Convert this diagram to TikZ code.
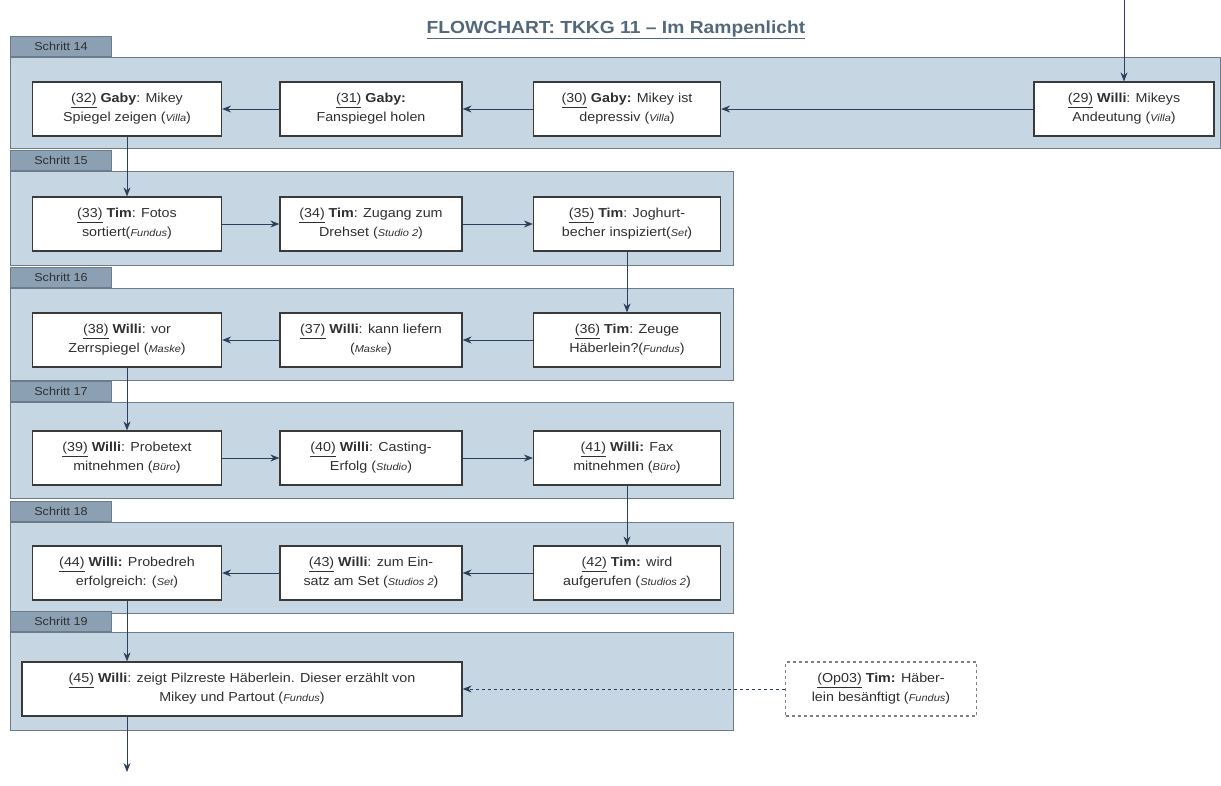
\documentclass[tikz,border=0pt]{standalone}
\usepackage{fontspec}
\setmainfont{Liberation Sans}[FakeStretch=1.1]
\usetikzlibrary{arrows.meta}
\definecolor{panelfill}{RGB}{198,214,227}
\definecolor{panelline}{RGB}{108,124,140}
\definecolor{tabfill}{RGB}{140,160,180}
\definecolor{flowline}{RGB}{44,64,92}
\definecolor{boxline}{RGB}{58,58,58}
\definecolor{txtgray}{RGB}{48,48,48}
\definecolor{titleblue}{RGB}{84,104,124}
\tikzstyle{panel}=[draw=panelline, fill=panelfill, line width=1pt]
\tikzstyle{steptab}=[draw=panelline, fill=tabfill, line width=1pt, minimum width=101pt, minimum height=20pt, inner sep=0pt, text=txtgray, font=\fontsize{11.5}{11.5}\selectfont]
\tikzstyle{stepbox}=[draw=boxline, fill=white, line width=1.2pt, align=center, minimum height=54pt, inner sep=0pt, text=txtgray, font=\fontsize{13}{19}\selectfont]
\tikzstyle{optbox}=[stepbox, draw=gray, dashed]
\tikzstyle{flow}=[draw=flowline, line width=0.9pt, -{Stealth[length=9pt,width=7pt]}]
\newcommand{\nr}[1]{\underline{(#1)}}
\newcommand{\ort}[1]{({\fontsize{10}{10}\selectfont\itshape #1})}

\begin{document}
\begin{tikzpicture}[x=1pt, y=-1pt]
\useasboundingbox (0,0) rectangle (1221,785);
\node[font=\bfseries\fontsize{17.5}{17.5}\selectfont, text=titleblue] (title) at (616,30) {\underline{FLOWCHART: TKKG 11 -- Im Rampenlicht}};
% panels with their tabs
\foreach \s/\t/\b/\r in {14/57/148/1220, 15/171/265/733, 16/288/380/733, 17/402/498/733, 18/522/613/733, 19/632/730/733} {
 \draw[panel] (10,\t) rectangle (\r,\b);
 \node[steptab, anchor=south west] (tab\s) at (10,\t) {Schritt \s};
}
% Schritt 14
\node[stepbox, minimum width=180pt] (b29) at (1124,109) {\nr{29} \textbf{Willi}: Mikeys\\Andeutung \ort{Villa}};
\node[stepbox, minimum width=187pt] (b30) at (627,109) {\nr{30} \textbf{Gaby:} Mikey ist\\depressiv \ort{Villa}};
\node[stepbox, minimum width=182pt] (b31) at (371,109) {\nr{31} \textbf{Gaby:}\\Fanspiegel holen};
\node[stepbox, minimum width=189pt] (b32) at (127,109) {\nr{32} \textbf{Gaby}: Mikey\\Spiegel zeigen \ort{Villa}};
% Schritt 15
\node[stepbox, minimum width=189pt] (b33) at (127,224) {\nr{33} \textbf{Tim}: Fotos\\sortiert\ort{Fundus}};
\node[stepbox, minimum width=182pt] (b34) at (371,224) {\nr{34} \textbf{Tim}: Zugang zum\\Drehset \ort{Studio 2}};
\node[stepbox, minimum width=187pt] (b35) at (627,224) {\nr{35} \textbf{Tim}: Joghurt-\\becher inspiziert\ort{Set}};
% Schritt 16
\node[stepbox, minimum width=187pt] (b36) at (627,340) {\nr{36} \textbf{Tim}: Zeuge\\Häberlein?\ort{Fundus}};
\node[stepbox, minimum width=182pt] (b37) at (371,340) {\nr{37} \textbf{Willi}: kann liefern\\\ort{Maske}};
\node[stepbox, minimum width=189pt] (b38) at (127,340) {\nr{38} \textbf{Willi}: vor\\Zerrspiegel \ort{Maske}};
% Schritt 17
\node[stepbox, minimum width=189pt] (b39) at (127,458) {\nr{39} \textbf{Willi}: Probetext\\mitnehmen \ort{Büro}};
\node[stepbox, minimum width=182pt] (b40) at (371,458) {\nr{40} \textbf{Willi}: Casting-\\Erfolg \ort{Studio}};
\node[stepbox, minimum width=187pt] (b41) at (627,458) {\nr{41} \textbf{Willi:} Fax\\mitnehmen \ort{Büro}};
% Schritt 18
\node[stepbox, minimum width=187pt] (b42) at (627,573) {\nr{42} \textbf{Tim:} wird\\aufgerufen \ort{Studios 2}};
\node[stepbox, minimum width=182pt] (b43) at (371,573) {\nr{43} \textbf{Willi}: zum Ein-\\satz am Set \ort{Studios 2}};
\node[stepbox, minimum width=189pt] (b44) at (127,573) {\nr{44} \textbf{Willi:} Probedreh\\erfolgreich: \ort{Set}};
% Schritt 19
\node[stepbox, minimum width=440pt] (b45) at (242,689) {\nr{45} \textbf{Willi}: zeigt Pilzreste Häberlein. Dieser erzählt von\\Mikey und Partout \ort{Fundus}};
\node[optbox, minimum width=191pt] (op03) at (881,689) {\nr{Op03} \textbf{Tim:} Häber-\\lein besänftigt \ort{Fundus}};

\coordinate (entry) at (1124,0);
\coordinate (exit) at (127,772);
\draw[flow] (entry) -- (b29);
\foreach \a/\b in {b29/b30, b30/b31, b31/b32, b32/b33, b33/b34, b34/b35, b35/b36, b36/b37, b37/b38, b38/b39, b39/b40, b40/b41, b41/b42, b42/b43, b43/b44}
 \draw[flow] (\a) -- (\b);
\draw[flow] (b44) -- (b44 |- b45.north);
\draw[flow] (b45.south -| b44) -- (exit);
\draw[flow, dashed] (op03) -- (b45);
\end{tikzpicture}
\end{document}
